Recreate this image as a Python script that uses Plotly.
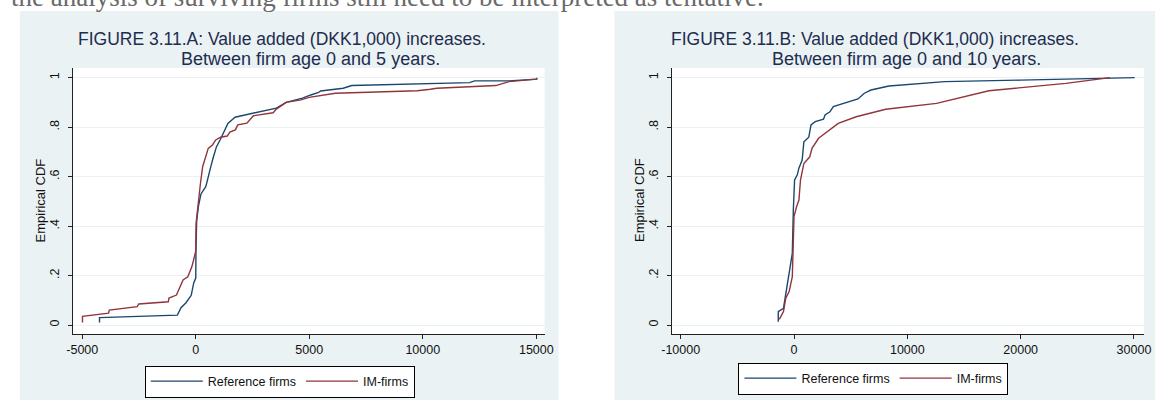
import plotly.graph_objects as go

# ---------------- data ----------------
# Panel A: between firm age 0 and 5 years
a_ref_x = [-4240, -4240, -810, -650, -430, -300, -200, -90, 0, 10, 40, 117, 229, 446, 519, 662,
           779, 909, 1082, 1242, 1416, 1732, 2541, 3550, 3983, 4700, 5065, 5411, 5498, 6494,
           6870, 12065, 12281, 13797, 15022, 15022]
a_ref_y = [0.01, 0.03, 0.04, 0.07, 0.09, 0.11, 0.12, 0.17, 0.19, 0.31, 0.42, 0.48, 0.53, 0.56,
           0.59, 0.64, 0.68, 0.72, 0.75, 0.78, 0.815, 0.84, 0.857, 0.877, 0.90, 0.917, 0.93,
           0.94, 0.946, 0.957, 0.968, 0.98, 0.987, 0.987, 0.994, 1.0]
a_im_x = [-4990, -4990, -3840, -3810, -2580, -2510, -1210, -1180, -850, -560, -350, -170, -60,
          0, 13, 117, 203, 303, 446, 550, 736, 879, 1095, 1385, 1502, 1745, 1849, 2251, 2541,
          3407, 3550, 3983, 4632, 4991, 6147, 9753, 10333, 10619, 13216, 13797, 15022]
a_im_y = [0.01, 0.035, 0.048, 0.06, 0.074, 0.085, 0.094, 0.109, 0.121, 0.182, 0.195, 0.236,
          0.276, 0.30, 0.41, 0.505, 0.57, 0.64, 0.68, 0.714, 0.728, 0.748, 0.759, 0.764, 0.78,
          0.789, 0.809, 0.816, 0.846, 0.858, 0.873, 0.90, 0.91, 0.92, 0.937, 0.947, 0.953,
          0.957, 0.968, 0.984, 0.994]

# Panel B: between firm age 0 and 10 years
b_ref_x = [-1390, -1390, -930, -640, -430, -230, -150, -60, 50, 290, 430, 720, 870, 1300, 1500,
           1870, 2600, 2740, 3170, 3470, 4340, 5640, 6210, 6790, 8380, 13300, 19950, 30060]
b_ref_y = [0.013, 0.054, 0.067, 0.155, 0.20, 0.263, 0.29, 0.465, 0.586, 0.607, 0.634, 0.667,
           0.741, 0.759, 0.809, 0.822, 0.832, 0.849, 0.862, 0.883, 0.896, 0.914, 0.937, 0.95,
           0.966, 0.984, 0.99, 1.0]
b_im_x = [-1300, -930, -730, -430, -150, -60, 0, 225, 434, 572, 867, 1388, 1587, 2168, 2888,
          3903, 5490, 8092, 12576, 17199, 23989, 27892]
b_im_y = [0.023, 0.054, 0.108, 0.135, 0.195, 0.317, 0.438, 0.478, 0.505, 0.586, 0.653, 0.68,
          0.714, 0.755, 0.78, 0.815, 0.842, 0.872, 0.896, 0.947, 0.977, 1.0]

series_names = ["Reference firms", "IM-firms"]
y_ticks = [0, 0.2, 0.4, 0.6, 0.8, 1]
y_ticktext = ["0", ".2", ".4", ".6", ".8", "1"]
a_xticks = [-5000, 0, 5000, 10000, 15000]
a_xticktext = ["-5000", "0", "5000", "10000", "15000"]
b_xticks = [-10000, 0, 10000, 20000, 30000]
b_xticktext = ["-10000", "0", "10000", "20000", "30000"]
titles_a = ["FIGURE 3.11.A: Value added (DKK1,000) increases.", "Between firm age 0 and 5 years."]
titles_b = ["FIGURE 3.11.B: Value added (DKK1,000) increases.", "Between firm age 0 and 10 years."]
y_title = "Empirical CDF"
top_text = "the analysis of surviving firms still need to be interpreted as tentative."

# ---------------- style ----------------
W, H = 1164, 402
BLUE = "#1a476f"
RED = "#90353b"
BG = "#eaf2f3"
TITLE_C = "#1e2c50"
FONT = "Liberation Sans, Arial, sans-serif"

def px(x):
    return x / W

def py(y):
    return 1 - y / H

fig = go.Figure()
fig.add_trace(go.Scatter(x=a_ref_x, y=a_ref_y, mode="lines", name=series_names[0],
                         line=dict(color=BLUE, width=1.4), xaxis="x", yaxis="y", legend="legend"))
fig.add_trace(go.Scatter(x=a_im_x, y=a_im_y, mode="lines", name=series_names[1],
                         line=dict(color=RED, width=1.4), xaxis="x", yaxis="y", legend="legend"))
fig.add_trace(go.Scatter(x=b_ref_x, y=b_ref_y, mode="lines", name=series_names[0],
                         line=dict(color=BLUE, width=1.4), xaxis="x2", yaxis="y2", legend="legend2"))
fig.add_trace(go.Scatter(x=b_im_x, y=b_im_y, mode="lines", name=series_names[1],
                         line=dict(color=RED, width=1.4), xaxis="x2", yaxis="y2", legend="legend2"))

ydom = [py(334), py(68)]
xdom_a = [px(63), px(543)]
xdom_b = [px(672.7), px(1152.7)]

common_x = dict(showgrid=False, zeroline=False, showline=True, linecolor="#222", linewidth=1,
                ticks="outside", ticklen=4, tickcolor="#222", tickfont=dict(size=12.5, color="#111"))
common_y = dict(showgrid=True, gridcolor=BG, gridwidth=1, zeroline=False, showline=True,
                linecolor="#222", linewidth=1, ticks="outside", ticklen=4, tickcolor="#222",
                tickvals=y_ticks, ticktext=y_ticktext, tickangle=-90, ticklabelstandoff=4,
                tickfont=dict(size=12.5, color="#111"), range=[-0.0364, 1.039])

leg_common = dict(orientation="h", xanchor="center", yanchor="middle",
                  bgcolor="white", bordercolor="#000", borderwidth=1, itemwidth=52,
                  font=dict(size=12.5, color="#111"), tracegroupgap=0)

fig.update_layout(
    width=W, height=H, margin=dict(l=0, r=0, t=0, b=0),
    paper_bgcolor="white", plot_bgcolor="white",
    font=dict(family=FONT, color="#111"),
    xaxis=dict(domain=xdom_a, anchor="y", range=[-5411, 15368], tickvals=a_xticks,
               ticktext=a_xticktext, **common_x),
    yaxis=dict(domain=ydom, anchor="x", **common_y),
    xaxis2=dict(domain=xdom_b, anchor="y2", range=[-10755, 30876], tickvals=b_xticks,
                ticktext=b_xticktext, **common_x),
    yaxis2=dict(domain=ydom, anchor="x2", **common_y),
    legend=dict(x=px(273.5), y=py(381.5), **leg_common),
    legend2=dict(x=px(877.5), y=py(378.5), **leg_common),
    showlegend=True,
)

shapes = [
    dict(type="rect", xref="paper", yref="paper", x0=px(9), x1=px(557), y0=py(400), y1=py(11),
         fillcolor=BG, line=dict(width=0), layer="below"),
    dict(type="rect", xref="paper", yref="paper", x0=px(614), x1=px(1164), y0=py(400), y1=py(11),
         fillcolor=BG, line=dict(width=0), layer="below"),
    dict(type="rect", xref="paper", yref="paper", x0=xdom_a[0], x1=xdom_a[1], y0=ydom[0], y1=ydom[1],
         fillcolor="white", line=dict(width=0), layer="below"),
    dict(type="rect", xref="paper", yref="paper", x0=xdom_b[0], x1=xdom_b[1], y0=ydom[0], y1=ydom[1],
         fillcolor="white", line=dict(width=0), layer="below"),
]
fig.update_layout(shapes=shapes)

ann = []
def title_ann(text, xc, yc, size):
    return dict(text=text, x=px(xc), y=py(yc), xref="paper", yref="paper", xanchor="center",
                yanchor="middle", showarrow=False, font=dict(size=size, color=TITLE_C, family=FONT))

ann.append(title_ann(titles_a[0], 276, 38.5, 17.5))
ann.append(title_ann(titles_a[1], 305, 58.5, 18))
ann.append(title_ann(titles_b[0], 879.5, 38.5, 17.5))
ann.append(title_ann(titles_b[1], 911.5, 58.5, 18))
for xc in (31, 640):
    ann.append(dict(text=y_title, x=px(xc), y=py(200), xref="paper", yref="paper",
                    xanchor="center", yanchor="middle", textangle=-90, showarrow=False,
                    font=dict(size=13, color="#111", family=FONT)))
ann.append(dict(text=top_text, x=px(-2), y=py(-3), xref="paper", yref="paper", xanchor="left",
                yanchor="middle", showarrow=False,
                font=dict(size=27, color="#6a6a6a", family="Liberation Serif, Times New Roman, serif")))
fig.update_layout(annotations=ann)

fig.write_html("out.html")
